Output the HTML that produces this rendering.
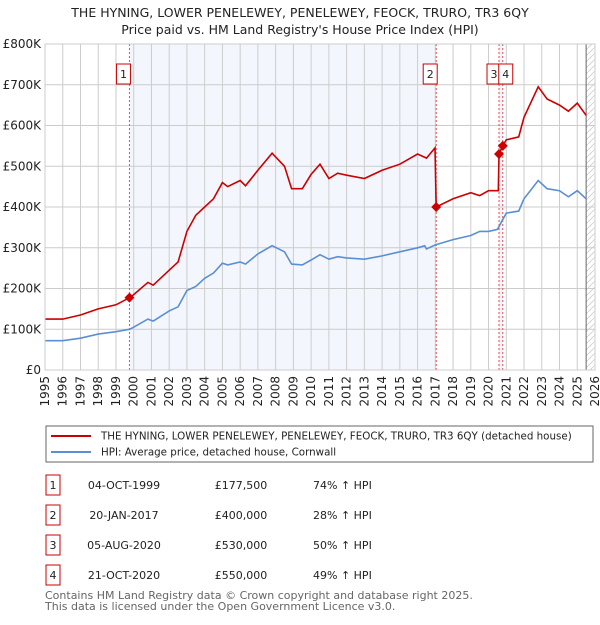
<!DOCTYPE html>
<html><head><meta charset="utf-8"><style>
body{margin:0;background:#fff;font-family:"Liberation Sans","DejaVu Sans",sans-serif;}
svg text{font-family:"DejaVu Sans","Liberation Sans",sans-serif;}
</style></head><body>
<svg id="c" width="600" height="620" xmlns="http://www.w3.org/2000/svg">
<text x="300" y="17" text-anchor="middle" font-size="12.5" fill="#222">THE HYNING, LOWER PENELEWEY, PENELEWEY, FEOCK, TRURO, TR3 6QY</text>
<text x="300" y="34" text-anchor="middle" font-size="12.5" fill="#222">Price paid vs. HM Land Registry's House Price Index (HPI)</text>
<g id="plot"></g>
<rect x="46" y="426" width="547" height="36" fill="#fff" stroke="#666"/>
<line x1="51" y1="436" x2="91" y2="436" stroke="#cc0000" stroke-width="2"/>
<text x="101" y="439.5" font-size="10.3" fill="#222">THE HYNING, LOWER PENELEWEY, PENELEWEY, FEOCK, TRURO, TR3 6QY (detached house)</text>
<line x1="51" y1="452" x2="91" y2="452" stroke="#5b8fd4" stroke-width="2"/>
<text x="101" y="455.5" font-size="10.3" fill="#222">HPI: Average price, detached house, Cornwall</text>
<g id="tbl"></g>
<text x="45" y="599" font-size="11" fill="#666">Contains HM Land Registry data © Crown copyright and database right 2025.</text>
<text x="45" y="610" font-size="11" fill="#666">This data is licensed under the Open Government Licence v3.0.</text>
</svg>
<script>
const hpiYears=[1995,1996,1997,1998,1999,1999.76,2000,2000.8,2001.1,2002,2002.5,2003,2003.5,2004,2004.5,2005,2005.3,2006,2006.3,2007,2007.8,2008.5,2008.9,2009.5,2010,2010.5,2011,2011.5,2012,2013,2014,2015,2016,2016.4,2016.5,2017,2018,2019,2019.5,2020,2020.5,2021,2021.7,2022,2022.8,2023.3,2024,2024.5,2025,2025.5];
const hpiValues=[72,72,78,88,94,100,105,125,120,145,155,195,205,225,238,262,258,265,260,285,305,290,260,258,270,283,272,278,275,272,280,290,300,305,297,307,320,330,340,340,345,385,390,420,465,445,440,425,440,420];
const priceYears=[1995,1996,1997,1998,1999,1999.76,2000,2000.8,2001.1,2002,2002.5,2003,2003.5,2004,2004.5,2005,2005.3,2006,2006.3,2007,2007.8,2008.5,2008.9,2009.5,2010,2010.5,2011,2011.5,2012,2013,2014,2015,2016,2016.5,2016.98,2017.05,2018,2019,2019.5,2020,2020.55,2020.59,2020.8,2021,2021.7,2022,2022.8,2023.3,2024,2024.5,2025,2025.5];
const priceValues=[125,125,135,150,160,177.5,185,215,208,245,265,340,380,400,420,460,450,465,452,490,532,500,445,445,480,505,470,483,478,470,490,505,530,520,545,400,420,435,428,440,440,530,550,565,572,620,695,665,650,635,655,625];
const saleLabels=["1","2","3","4"];
const saleYears=[1999.76,2017.05,2020.59,2020.8];
const saleValues=[177.5,400,530,550];
const saleDates=["04-OCT-1999","20-JAN-2017","05-AUG-2020","21-OCT-2020"];
const salePrices=["£177,500","£400,000","£530,000","£550,000"];
const saleHpi=["74% ↑ HPI","28% ↑ HPI","50% ↑ HPI","49% ↑ HPI"];
const yTicks=[0,100,200,300,400,500,600,700,800];
const yTickLabels=["£0","£100K","£200K","£300K","£400K","£500K","£600K","£700K","£800K"];

const NS="http://www.w3.org/2000/svg";
const X0=45,X1=595,Y0=370,Y1=44;
const xs=y=>X0+(y-1995)*(X1-X0)/31;
const ys=v=>Y0-v*(Y0-Y1)/800;
const P=document.getElementById('plot');
function mk(tag,at,par){const e=document.createElementNS(NS,tag);for(const k in at)e.setAttribute(k,at[k]);(par||P).appendChild(e);return e;}
let e;
e=mk('rect',{x:xs(1999.76),y:Y1,width:xs(2017.05)-xs(1999.76),height:Y0-Y1,fill:'#eef3fc',opacity:0.7});


e=mk('rect',{x:xs(2020.59),y:Y1,width:xs(2020.8)-xs(2020.59),height:Y0-Y1,fill:'#eef3fc'});


const defs=mk('defs',{});
const pat=mk('pattern',{id:'h',width:6,height:6,patternUnits:'userSpaceOnUse'},defs);
mk('path',{d:'M0,6 L6,0',stroke:'#ccc','stroke-width':0.8},pat);
e=mk('rect',{x:xs(2025.5),y:Y1,width:X1-xs(2025.5),height:Y0-Y1,fill:'url(#h)'});


for(let y=1995;y<=2026;y++){
  e=mk('line',{x1:xs(y),x2:xs(y),y1:Y1,y2:Y0,stroke:'#ccc','stroke-width':1});
  
  
  e=mk('text',{x:0,y:0,transform:`translate(${xs(y)+4},${Y0+6}) rotate(-90)`,'text-anchor':'end','font-size':12,fill:'#222'});
  e.textContent=y;
  
  
}
yTicks.forEach((v,i)=>{
  e=mk('line',{x1:X0,x2:X1,y1:ys(v),y2:ys(v),stroke:'#ccc','stroke-width':1});
  
  
  e=mk('text',{x:X0-4,y:ys(v)+4,'text-anchor':'end','font-size':12,fill:'#222'});
  e.textContent=yTickLabels[i];
  
  
});
e=mk('line',{x1:xs(2025.5),x2:xs(2025.5),y1:Y1,y2:Y0,stroke:'#666','stroke-width':1});


saleYears.forEach((y,i)=>{
  e=mk('line',{x1:xs(y),x2:xs(y),y1:Y1,y2:Y0,stroke:'#e05050','stroke-width':1,'stroke-dasharray':'2,2'});
  
  
});
const pts=(a,b)=>a.map((y,i)=>xs(y).toFixed(1)+','+ys(b[i]).toFixed(1)).join(' ');
e=mk('polyline',{points:pts(hpiYears,hpiValues),fill:'none',stroke:'#5b8fd4','stroke-width':1.6});


e=mk('polyline',{points:pts(priceYears,priceValues),fill:'none',stroke:'#cc0000','stroke-width':1.6});


saleYears.forEach((y,i)=>{
  const cx=xs(y),cy=ys(saleValues[i]);
  e=mk('path',{d:`M${cx},${cy-5} L${cx+5},${cy} L${cx},${cy+5} L${cx-5},${cy} Z`,fill:'#cc0000'});
  
  
  const bx=i==2?xs(y)-12:(i==3?xs(y)-4:xs(y)-13);
  e=mk('rect',{x:bx,y:64,width:14,height:20,fill:'#fff',stroke:'#cc0000'});
  
  
  e=mk('text',{x:bx+7,y:78,'text-anchor':'middle','font-size':11,fill:'#222'});
  e.textContent=saleLabels[i];
  
  
});
e=mk('rect',{x:X0,y:Y1,width:X1-X0,height:Y0-Y1,fill:'none',stroke:'#ccc'});


const T=document.getElementById('tbl');
saleLabels.forEach((l,i)=>{
  const y=485+i*30;
  e=mk('rect',{x:46,y:y-10,width:14,height:20,fill:'#fff',stroke:'#cc0000'},T);
  
  
  const cells=[[53,l,'middle'],[124,saleDates[i],'middle'],[241,salePrices[i],'middle'],[313,saleHpi[i],'start']];
  cells.forEach(c=>{
    e=mk('text',{x:c[0],y:y+4,'text-anchor':c[2],'font-size':11,fill:'#222'},T);
    e.textContent=c[1];
    
    
  });
});
</script>
</body></html>
